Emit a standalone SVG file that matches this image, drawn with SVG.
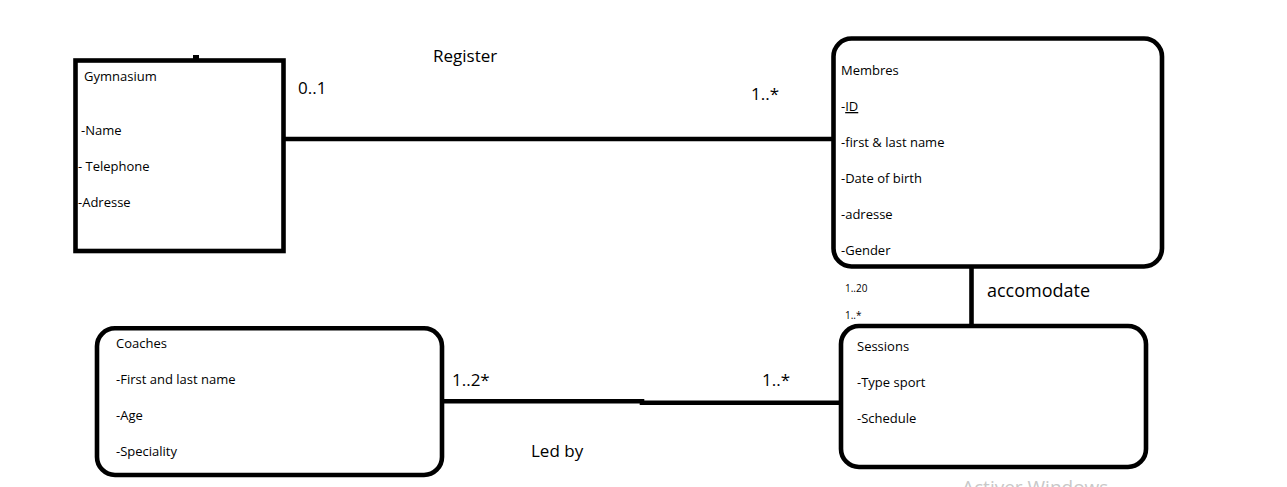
<svg xmlns="http://www.w3.org/2000/svg" width="1287" height="487" viewBox="0 0 1287 487">
<style>
.box{fill:#fff;stroke:#000;stroke-width:4.6}
.conn{stroke:#000;stroke-width:4.6;fill:none}
.t{font-family:"Open Sans","Liberation Sans",sans-serif;font-size:13px;fill:#000}
.m{font-family:"Open Sans","Liberation Sans",sans-serif;font-size:17px;fill:#000}
.s{font-family:"Open Sans","Liberation Sans",sans-serif;font-size:10px;fill:#000}
.wm{font-family:"Open Sans","Liberation Sans",sans-serif;font-size:19px;fill:#c8c8c8}
</style>
<rect width="1287" height="487" fill="#fff"/>
<g id="connectors">
<line class="conn" x1="283" y1="139" x2="837" y2="139"/>
<circle cx="836" cy="139" r="3"/>
<line class="conn" x1="971.5" y1="266" x2="971.5" y2="326"/>
<polyline class="conn" points="442,401.3 642,401.3 642,402.7 841,402.7" stroke-linejoin="miter"/>
</g>
<g id="gymnasium">
<rect x="193" y="55" width="6" height="5" fill="#000"/>
<rect class="box" x="75.5" y="60.5" width="208" height="190.5"/>
<text class="t" x="84" y="81">Gymnasium</text>
<text class="t" x="81" y="135">-Name</text>
<text class="t" x="78" y="171">- Telephone</text>
<text class="t" x="78" y="207">-Adresse</text>
</g>
<g id="membres">
<rect class="box" x="833.5" y="38.5" width="328.5" height="228" rx="18"/>
<text class="t" x="841" y="75">Membres</text>
<text class="t" x="841" y="111">-<tspan text-decoration="underline">ID</tspan></text>
<text class="t" x="841" y="147">-first &amp; last name</text>
<text class="t" x="841" y="183">-Date of birth</text>
<text class="t" x="841" y="219">-adresse</text>
<text class="t" x="841" y="255">-Gender</text>
</g>
<g id="sessions">
<rect class="box" x="841" y="326" width="305" height="141" rx="18"/>
<text class="t" x="857" y="351">Sessions</text>
<text class="t" x="857" y="387">-Type sport</text>
<text class="t" x="857" y="423">-Schedule</text>
</g>
<g id="coaches">
<rect class="box" x="97" y="328.3" width="345" height="146.7" rx="18"/>
<text class="t" x="116" y="347.5">Coaches</text>
<text class="t" x="116" y="383.5">-First and last name</text>
<text class="t" x="116" y="419.5">-Age</text>
<text class="t" x="116" y="455.5">-Speciality</text>
</g>
<g id="labels">
<text class="m" x="433" y="62">Register</text>
<text class="m" x="298" y="94">0..1</text>
<text class="m" x="751" y="100">1..*</text>
<text class="s" x="845" y="292">1..20</text>
<text class="s" x="845" y="319">1..*</text>
<text class="m" x="987" y="297" style="font-size:18px">accomodate</text>
<text class="m" x="452" y="386">1..2*</text>
<text class="m" x="762" y="386">1..*</text>
<text class="m" x="531" y="457">Led by</text>
<text class="wm" x="962" y="494">Activer Windows</text>
</g>
</svg>
